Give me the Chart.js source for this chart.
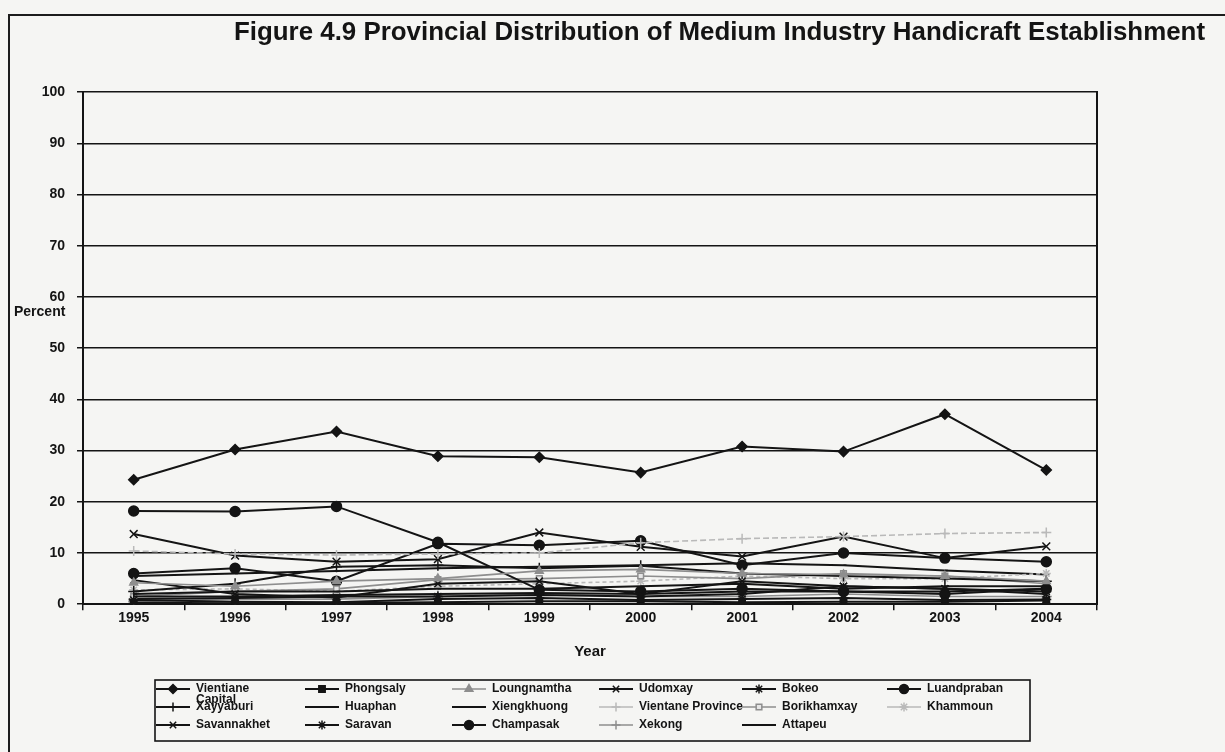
<!DOCTYPE html>
<html>
<head>
<meta charset="utf-8">
<script src="https://cdn.jsdelivr.net/npm/chart.js@4.4.0/dist/chart.umd.min.js"></script>
<style>
  html, body { margin: 0; padding: 0; background: #f5f5f3; }
  #wrap { position: relative; width: 1225px; height: 752px; overflow: hidden; }
  #frame { position: absolute; left: 8px; top: 14px; width: 1400px; height: 900px;
           border: 2px solid #1c1c1c; box-sizing: border-box; }
  #c { position: absolute; left: 0; top: 0; }
</style>
</head>
<body>
<div id="wrap">
  <div id="frame"></div>
  <canvas id="c" width="1225" height="752"></canvas>
</div>
<script>
// Years on the category axis
const years = ['1995', '1996', '1997', '1998', '1999', '2000', '2001', '2002', '2003', '2004'];

// Share of medium handicraft establishments by province (percent)
const vientianeCapital = [24.3, 30.2, 33.7, 28.9, 28.7, 25.7, 30.8, 29.8, 37.1, 26.2];
const phongsaly        = [0.3, 0.2, 0.3, 0.4, 0.6, 0.6, 0.4, 0.5, 0.5, 0.7];
const loungnamtha      = [4.2, 3.5, 4.5, 5.0, 6.5, 6.8, 6.0, 5.8, 5.5, 4.5];
const udomxay          = [4.7, 2.0, 1.3, 4.0, 4.5, 2.0, 4.5, 3.5, 3.0, 2.0];
const bokeo            = [0.8, 0.5, 0.4, 1.0, 1.2, 0.8, 1.0, 1.2, 0.8, 0.9];
const luandpraban      = [18.2, 18.1, 19.1, 12.1, 2.8, 2.5, 3.0, 2.5, 2.0, 3.0];
const xayyaburi        = [2.5, 4.0, 7.3, 7.6, 7.0, 7.5, 6.0, 5.5, 5.0, 4.5];
const huaphan          = [1.5, 1.5, 1.8, 2.0, 2.2, 2.0, 2.5, 2.5, 2.5, 3.0];
const xiengkhuong      = [2.0, 2.5, 2.5, 3.0, 3.0, 3.5, 4.0, 3.0, 3.5, 3.5];
const vientaneProvince = [10.4, 9.8, 9.6, 9.8, 10.0, 12.0, 12.8, 13.2, 13.8, 14.0];
const borikhamxay      = [1.5, 2.5, 3.0, 4.8, 5.0, 5.5, 5.0, 6.0, 5.5, 4.0];
const khammoun         = [2.8, 3.0, 2.5, 3.5, 4.0, 4.5, 5.5, 5.0, 5.0, 6.0];
const savannakhet      = [13.7, 9.5, 8.3, 8.8, 14.0, 11.2, 9.3, 13.2, 9.0, 11.3];
const saravan          = [1.0, 1.2, 1.5, 1.5, 1.8, 1.5, 2.0, 3.5, 3.0, 2.5];
const champasak        = [6.0, 7.0, 4.5, 11.8, 11.5, 12.4, 7.6, 10.0, 9.0, 8.3];
const xekong           = [0.5, 1.0, 1.0, 1.5, 2.0, 1.5, 1.5, 2.0, 1.5, 1.5];
const attapeu          = [5.5, 6.0, 6.5, 7.0, 7.3, 7.6, 8.0, 7.6, 6.6, 5.8];

// Y-axis tick range
const yMin = 0, yMax = 100, yStep = 10;

const titleText = 'Figure 4.9 Provincial Distribution of Medium Industry Handicraft Establishment';

const INK = '#141414';
const GREY = '#8e8e8e';
const LIGHT = '#b9b9b9';

function series(label, data, color, pointStyle, radius, extra) {
  return Object.assign({
    label, data,
    borderColor: color,
    backgroundColor: color,
    pointBackgroundColor: color,
    pointBorderColor: color,
    borderWidth: color === INK ? 2 : 1.6,
    pointStyle,
    pointRadius: radius,
    pointHoverRadius: radius,
    pointBorderWidth: 1.5,
    tension: 0,
    fill: false
  }, extra || {});
}

const datasets = [
  series('Vientiane Capital', vientianeCapital, INK, 'rectRot', 5),
  series('Phongsaly', phongsaly, INK, 'rect', 4.5),
  series('Loungnamtha', loungnamtha, GREY, 'triangle', 4.5),
  series('Udomxay', udomxay, INK, 'crossRot', 5),
  series('Bokeo', bokeo, INK, 'star', 5),
  series('Luandpraban', luandpraban, INK, 'circle', 5),
  series('Xayyaburi', xayyaburi, INK, 'cross', 5.5),
  series('Huaphan', huaphan, INK, 'dash', 3),
  series('Xiengkhuong', xiengkhuong, INK, 'dash', 3),
  series('Vientane Province', vientaneProvince, LIGHT, 'cross', 5, { borderDash: [6, 3] }),
  series('Borikhamxay', borikhamxay, GREY, 'rect', 4, { pointBackgroundColor: '#e6e6e6' }),
  series('Khammoun', khammoun, LIGHT, 'star', 4.5, { borderDash: [4, 3] }),
  series('Savannakhet', savannakhet, INK, 'crossRot', 5.5),
  series('Saravan', saravan, INK, 'star', 5),
  series('Champasak', champasak, INK, 'circle', 5),
  series('Xekong', xekong, GREY, 'cross', 5.5),
  series('Attapeu', attapeu, INK, 'dash', 3)
];

// Fit the heading to its column width
const FONT = '"Liberation Sans", Arial, sans-serif';
const meas = document.createElement('canvas').getContext('2d');
meas.font = 'bold 20px ' + FONT;
const titleSize = Math.round(20 * 973 / meas.measureText(titleText).width * 10) / 10;

// Boxed legend in a fixed six-column grid, plus the horizontal "Percent" label
const sheetDecor = {
  id: 'sheetDecor',
  afterDraw(chart) {
    const ctx = chart.ctx;
    ctx.save();
    // "Percent" caption beside the value axis
    ctx.fillStyle = INK;
    ctx.font = 'bold 14px ' + FONT;
    ctx.textAlign = 'left';
    ctx.textBaseline = 'middle';
    ctx.fillText('Percent', 14, 312);

    // legend frame
    ctx.strokeStyle = INK;
    ctx.lineWidth = 1.6;
    ctx.strokeRect(155, 680, 875, 61);

    const cols = [156, 305, 452, 599, 742, 887];
    const rows = [689, 707, 725];
    ctx.font = 'bold 12px ' + FONT;
    chart.data.datasets.forEach((ds, i) => {
      const x = cols[i % 6], y = rows[Math.floor(i / 6)];
      ctx.save();
      ctx.strokeStyle = ds.borderColor;
      ctx.lineWidth = ds.borderWidth;
      ctx.setLineDash([]);
      ctx.beginPath();
      ctx.moveTo(x, y);
      ctx.lineTo(x + 34, y);
      ctx.stroke();
      ctx.fillStyle = ds.pointBackgroundColor;
      ctx.strokeStyle = ds.pointBorderColor;
      ctx.lineWidth = 1.5;
      Chart.helpers.drawPoint(ctx, {
        pointStyle: ds.pointStyle, rotation: 0,
        radius: Math.min(ds.pointRadius, 4.5), borderWidth: 1.5
      }, x + 17, y);
      ctx.restore();
      ctx.fillStyle = INK;
      const parts = ds.label === 'Vientiane Capital' ? ['Vientiane', 'Capital'] : [ds.label];
      parts.forEach((p, k) => ctx.fillText(p, x + 40, y + k * 11));
    });
    ctx.restore();
  }
};

new Chart(document.getElementById('c'), {
  type: 'line',
  data: { labels: years, datasets },
  plugins: [sheetDecor],
  options: {
    responsive: false,
    animation: false,
    layout: { padding: { left: 0, right: 20, top: 0, bottom: 87 } },
    plugins: {
      legend: { display: false },
      tooltip: { enabled: false },
      title: {
        display: true,
        text: titleText,
        align: 'end',
        color: INK,
        font: { family: FONT, size: titleSize, weight: 'bold' },
        padding: { top: 17, bottom: 44 }
      }
    },
    scales: {
      x: {
        offset: true,
        grid: { display: true, drawOnChartArea: false, offset: true, tickLength: 6, color: INK, lineWidth: 1.5 },
        border: { display: true, color: INK, width: 2 },
        ticks: { color: INK, padding: 0, font: { family: FONT, size: 14, weight: 'bold' } },
        title: {
          display: true, text: 'Year', color: INK,
          font: { family: FONT, size: 15, weight: 'bold' },
          padding: { top: 16, bottom: 4 }
        }
      },
      y: {
        min: yMin, max: yMax,
        ticks: { stepSize: yStep, color: INK, padding: 12, font: { family: FONT, size: 14, weight: 'bold' } },
        grid: { color: INK, lineWidth: 1.5, tickLength: 6 },
        border: { display: true, color: INK, width: 2 },
        afterFit(scale) { scale.width = 83; }
      },
      yRight: {
        position: 'right',
        min: yMin, max: yMax,
        grid: { display: false },
        ticks: { display: false },
        border: { display: true, color: INK, width: 2 },
        afterFit(scale) { scale.width = 108; }
      }
    }
  }
});
</script>
</body>
</html>
